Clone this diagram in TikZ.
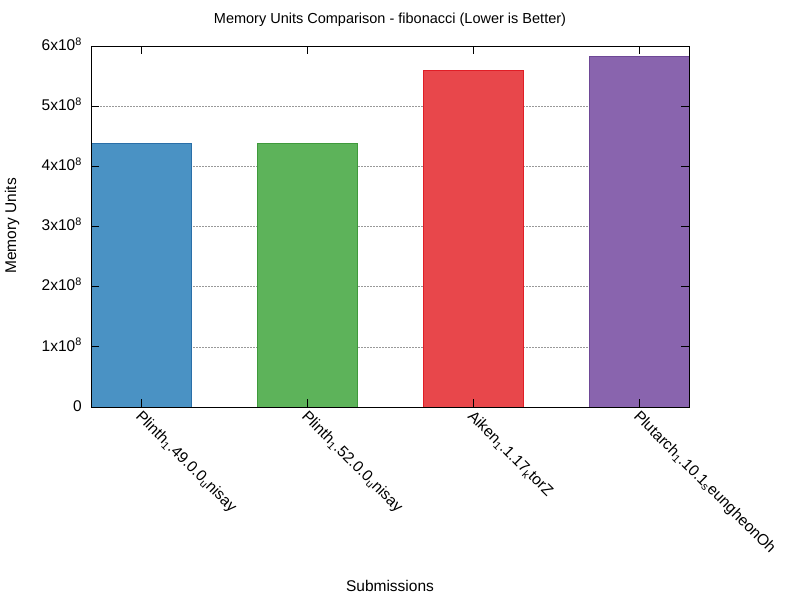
\documentclass[tikz,border=0pt]{standalone}
\usepackage{fontspec}
\setmainfont{Liberation Sans}
\begin{document}
\begin{tikzpicture}[x=1pt,y=-1pt,
  lbl/.style={font=\fontsize{15.5}{18}\selectfont, inner sep=0pt},
  grid/.style={gray!80, line width=0.6pt, dash pattern=on 1.5pt off 1.5pt},
  bar/.style={line width=0.8pt},
  xl/.style={lbl, rotate=-45, anchor=north west}]
\useasboundingbox[fill=white] (0,0) rectangle (800,600);
\definecolor{cb}{HTML}{4A92C4}\definecolor{cbe}{HTML}{2A6FA8}
\definecolor{cg}{HTML}{5DB35A}\definecolor{cge}{HTML}{3F9A3C}
\definecolor{cr}{HTML}{E8474B}\definecolor{cre}{HTML}{E01E26}
\definecolor{cp}{HTML}{8964AE}\definecolor{cpe}{HTML}{6E4896}
% grid
\foreach \v in {1,...,5} {
  \draw[grid] (91,{407-60.17*\v}) -- (689,{407-60.17*\v});
}
% bars
\fill[cb] (91,143) rectangle (191,407);
\draw[bar,cbe] (91,407) -- (91,143) -- (191,143) -- (191,407);
\fill[cg] (257,143) rectangle (357,407);
\draw[bar,cge] (257,407) -- (257,143) -- (357,143) -- (357,407);
\fill[cr] (423,70) rectangle (523,407);
\draw[bar,cre] (423,407) -- (423,70) -- (523,70) -- (523,407);
\fill[cp] (589,56) rectangle (689,407);
\draw[bar,cpe] (589,407) -- (589,56) -- (689,56) -- (689,407);
% frame
\draw[line width=0.9pt] (91,46) rectangle (689,407);
% ticks
\foreach \v in {0,...,6} {
  \draw[line width=0.9pt] (91,{407-60.17*\v}) -- (99,{407-60.17*\v});
  \draw[line width=0.9pt] (689,{407-60.17*\v}) -- (681,{407-60.17*\v});
}
\foreach \x in {141,307,473,639} {
  \draw[line width=0.9pt] (\x,407) -- (\x,399);
  \draw[line width=0.9pt] (\x,46) -- (\x,54);
}
% y labels
\node[lbl,anchor=east] (y0) at (82,406) {0};
\foreach \v in {1,...,6} {
  \node[lbl,anchor=east] (y\v) at (82,{405-60.17*\v}) {\v x10\textsuperscript{8}};
}
% x labels
\node[xl] (l1) at (143,409) {Plinth\textsubscript{1}.49.0.0\textsubscript{u}nisay};
\node[xl] (l2) at (309,409) {Plinth\textsubscript{1}.52.0.0\textsubscript{u}nisay};
\node[xl] (l3) at (475,409) {Aiken\textsubscript{1}.1.17\textsubscript{k}torZ};
\node[xl] (l4) at (641,409) {Plutarch\textsubscript{1}.10.1\textsubscript{s}eungheonOh};
% titles
\node[lbl,font=\fontsize{14.5}{17}\selectfont] (title) at (390,20) {Memory Units Comparison - fibonacci (Lower is Better)};
\node[lbl,rotate=90] (ylab) at (12,226) {Memory Units};
\node[lbl] (xlab) at (390,586) {Submissions};
\end{tikzpicture}
\end{document}
